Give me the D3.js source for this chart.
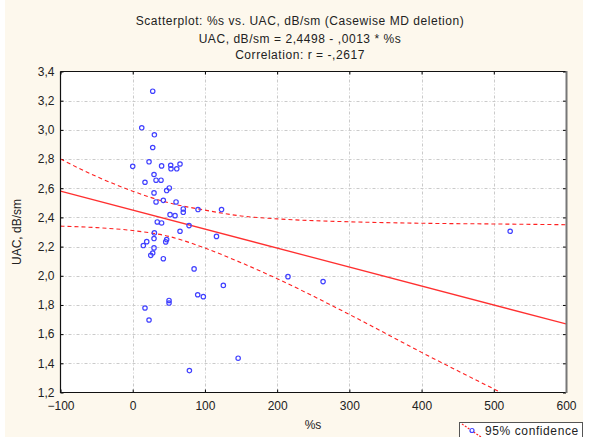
<!DOCTYPE html>
<html>
<head>
<meta charset="utf-8">
<script src="https://cdn.jsdelivr.net/npm/d3@7"></script>
<style>
  body { margin: 0; background: #fff; }
  svg { display: block; font-family: "Liberation Sans", Arial, sans-serif; }
  .tick text { font-size: 12px; fill: #222; }
</style>
</head>
<body>
<div id="scatter"></div>
<script>
// scatter points: %s and UAC, dB/sm
var pctS = [27.7, 12.5, 30, 27.7, 0, 22.6, 40, 52.6, 53, 61, 65.5, 29.5, 17, 32.3, 39.2,
  50.7, 47, 29.5, 32.3, 42.4, 60, 70, 70, 90.4, 123, 51.7, 58.6, 34, 40, 65.5, 78, 116,
  30, 29.5, 47, 45.7, 19.4, 14.7, 29.5, 27.7, 25, 42.4, 85, 125.5, 90, 97.8, 50.3, 50.3,
  17, 22.6, 78.5, 146, 215, 263.6, 522.7];
var uac = [3.265, 3.014, 2.966, 2.879, 2.75, 2.781, 2.753, 2.757, 2.733, 2.733, 2.766, 2.694,
  2.641, 2.655, 2.655, 2.602, 2.584, 2.568, 2.506, 2.517, 2.506, 2.458, 2.435, 2.454, 2.454,
  2.419, 2.412, 2.369, 2.362, 2.305, 2.344, 2.27, 2.294, 2.255, 2.248, 2.232, 2.234, 2.207,
  2.191, 2.156, 2.14, 2.117, 2.047, 1.934, 1.87, 1.857, 1.831, 1.813, 1.779, 1.697, 1.35,
  1.435, 1.994, 1.96, 2.305];

// fitted line, from the subtitle
var intercept = 2.4498;
var slope = -0.0013;

// 95% confidence bands
var upperX = [-100, -50, 0, 50, 100, 150, 200, 300, 400, 500, 600];
var upperY = [2.80, 2.68, 2.58, 2.50, 2.45, 2.41, 2.39, 2.37, 2.36, 2.355, 2.35];
var lowerX = [-100, -50, 0, 50, 100, 150, 200, 300, 400, 510];
var lowerY = [2.34, 2.33, 2.31, 2.27, 2.19, 2.09, 1.98, 1.735, 1.475, 1.2];

var xTicks = [-100, 0, 100, 200, 300, 400, 500, 600];
var yTicks = [1.2, 1.4, 1.6, 1.8, 2.0, 2.2, 2.4, 2.6, 2.8, 3.0, 3.2, 3.4];

var titles = [
  "Scatterplot: %s vs. UAC, dB/sm (Casewise MD deletion)",
  "UAC, dB/sm = 2,4498 - ,0013  * %s",
  "Correlation: r = -,2617"
];

var width = 596;
var height = 437;
var pLeft = 60.5, pRight = 566, pTop = 71.5, pBottom = 392.5;

var svg = d3.select("#scatter").append("svg")
  .attr("width", width)
  .attr("height", height);

svg.append("rect").attr("width", width).attr("height", height).attr("fill", "#fff");
svg.append("rect").attr("x", 5).attr("y", 0).attr("width", 578).attr("height", height)
  .attr("fill", "#fdf8ed");

var xScale = d3.scaleLinear().domain([-100, 600]).range([pLeft, pRight]);
var yScale = d3.scaleLinear().domain([1.2, 3.4]).range([pBottom, pTop]);

var comma = function(d) { return d3.format(".1f")(d).replace(".", ","); };

svg.append("rect")
  .attr("x", pLeft).attr("y", pTop)
  .attr("width", pRight - pLeft).attr("height", pBottom - pTop)
  .attr("fill", "#fff");

// grid
var grid = svg.append("g").attr("class", "grid");
grid.selectAll("line.gx").data(xTicks.slice(1, -1)).enter()
  .append("line")
  .attr("x1", function(d) { return Math.round(xScale(d)) + 0.5; })
  .attr("x2", function(d) { return Math.round(xScale(d)) + 0.5; })
  .attr("y1", pTop).attr("y2", pBottom);
grid.selectAll("line.gy").data(yTicks.slice(1, -1)).enter()
  .append("line")
  .attr("x1", pLeft).attr("x2", pRight)
  .attr("y1", function(d) { return Math.round(yScale(d)) + 0.5; })
  .attr("y2", function(d) { return Math.round(yScale(d)) + 0.5; });
grid.selectAll("line")
  .attr("stroke", "#cacaca")
  .attr("stroke-dasharray", "3,2,1,2");

// axes
var xAxis = d3.axisBottom(xScale).tickValues(xTicks).tickSize(0).tickPadding(9)
  .tickFormat(d3.format("d"));
var yAxis = d3.axisLeft(yScale).tickValues(yTicks).tickSize(0).tickPadding(6)
  .tickFormat(comma);
svg.append("g").attr("transform", "translate(0," + pBottom + ")").call(xAxis)
  .call(function(g) { g.select(".domain").remove(); });
svg.append("g").attr("transform", "translate(" + pLeft + ",0)").call(yAxis)
  .call(function(g) { g.select(".domain").remove(); });

// small inner ticks on all four sides
svg.append("g").attr("transform", "translate(0," + pBottom + ")")
  .call(d3.axisBottom(xScale).tickValues(xTicks).tickSize(-3).tickFormat(""))
  .call(function(g) { g.select(".domain").remove(); });
svg.append("g").attr("transform", "translate(0," + pTop + ")")
  .call(d3.axisTop(xScale).tickValues(xTicks).tickSize(-3).tickFormat(""))
  .call(function(g) { g.select(".domain").remove(); });
svg.append("g").attr("transform", "translate(" + pLeft + ",0)")
  .call(d3.axisLeft(yScale).tickValues(yTicks).tickSize(-3).tickFormat(""))
  .call(function(g) { g.select(".domain").remove(); });
svg.append("g").attr("transform", "translate(" + pRight + ",0)")
  .call(d3.axisRight(yScale).tickValues(yTicks).tickSize(-3).tickFormat(""))
  .call(function(g) { g.select(".domain").remove(); });

// clip for the lines
svg.append("clipPath").attr("id", "plotclip")
  .append("rect").attr("x", pLeft).attr("y", pTop)
  .attr("width", pRight - pLeft).attr("height", pBottom - pTop);

var plot = svg.append("g").attr("clip-path", "url(#plotclip)");

var line = d3.line()
  .x(function(d) { return xScale(d[0]); })
  .y(function(d) { return yScale(d[1]); })
  .curve(d3.curveMonotoneX);

plot.append("path")
  .datum(upperX.map(function(x, i) { return [x, upperY[i]]; }))
  .attr("d", line)
  .attr("fill", "none").attr("stroke", "#ff2020").attr("stroke-width", 1.1)
  .attr("stroke-dasharray", "4,3");
plot.append("path")
  .datum(lowerX.map(function(x, i) { return [x, lowerY[i]]; }))
  .attr("d", line)
  .attr("fill", "none").attr("stroke", "#ff2020").attr("stroke-width", 1.1)
  .attr("stroke-dasharray", "4,3");
plot.append("path")
  .datum([[-100, intercept + slope * -100], [600, intercept + slope * 600]])
  .attr("d", line)
  .attr("fill", "none").attr("stroke", "#ff3030").attr("stroke-width", 1.3);

plot.selectAll("circle.pt")
  .data(pctS.map(function(x, i) { return [x, uac[i]]; }))
  .enter().append("circle")
  .attr("class", "pt")
  .attr("cx", function(d) { return xScale(d[0]); })
  .attr("cy", function(d) { return yScale(d[1]); })
  .attr("r", 2.2)
  .attr("fill", "none")
  .attr("stroke", "#4040ff")
  .attr("stroke-width", 1.2);

// frame
svg.append("path")
  .attr("d", "M" + pLeft + "," + pTop + "H" + pRight + "M" + pLeft + "," + pTop + "V" + pBottom + "H" + pRight)
  .attr("fill", "none").attr("stroke", "#111").attr("stroke-width", 1.2);
svg.append("line")
  .attr("x1", pRight + 0.5).attr("x2", pRight + 0.5).attr("y1", pTop - 0.5).attr("y2", pBottom + 0.6)
  .attr("stroke", "#777").attr("stroke-width", 2);

// titles
svg.selectAll("text.title").data(titles).enter().append("text")
  .attr("class", "title")
  .attr("x", 300)
  .attr("y", function(d, i) { return [25, 42.5, 58.5][i]; })
  .attr("text-anchor", "middle")
  .attr("font-size", 12)
  .attr("letter-spacing", 0.55)
  .attr("fill", "#222")
  .text(function(d) { return d; });

// axis titles
svg.append("text")
  .attr("x", 313).attr("y", 429)
  .attr("text-anchor", "middle")
  .attr("font-size", 12).attr("fill", "#222")
  .text("%s");
svg.append("text")
  .attr("transform", "translate(21,232)rotate(-90)")
  .attr("text-anchor", "middle")
  .attr("font-size", 12).attr("fill", "#222")
  .text("UAC, dB/sm");

// legend
var legend = svg.append("g").attr("transform", "translate(459,422)");
legend.append("rect")
  .attr("x", 0.5).attr("y", 0.5).attr("width", 123).attr("height", 20)
  .attr("fill", "#fff").attr("stroke", "#555");
legend.append("line")
  .attr("x1", 3).attr("y1", 2).attr("x2", 22).attr("y2", 15)
  .attr("stroke", "#ff2020").attr("stroke-width", 1.2).attr("stroke-dasharray", "2,1.5");
legend.append("circle")
  .attr("cx", 13).attr("cy", 8.5).attr("r", 2)
  .attr("fill", "#fff").attr("stroke", "#4040ff").attr("stroke-width", 1.2);
legend.append("text")
  .attr("x", 26).attr("y", 13)
  .attr("font-size", 12).attr("letter-spacing", 0.6).attr("fill", "#222")
  .text("95% confidence");
</script>
</body>
</html>
